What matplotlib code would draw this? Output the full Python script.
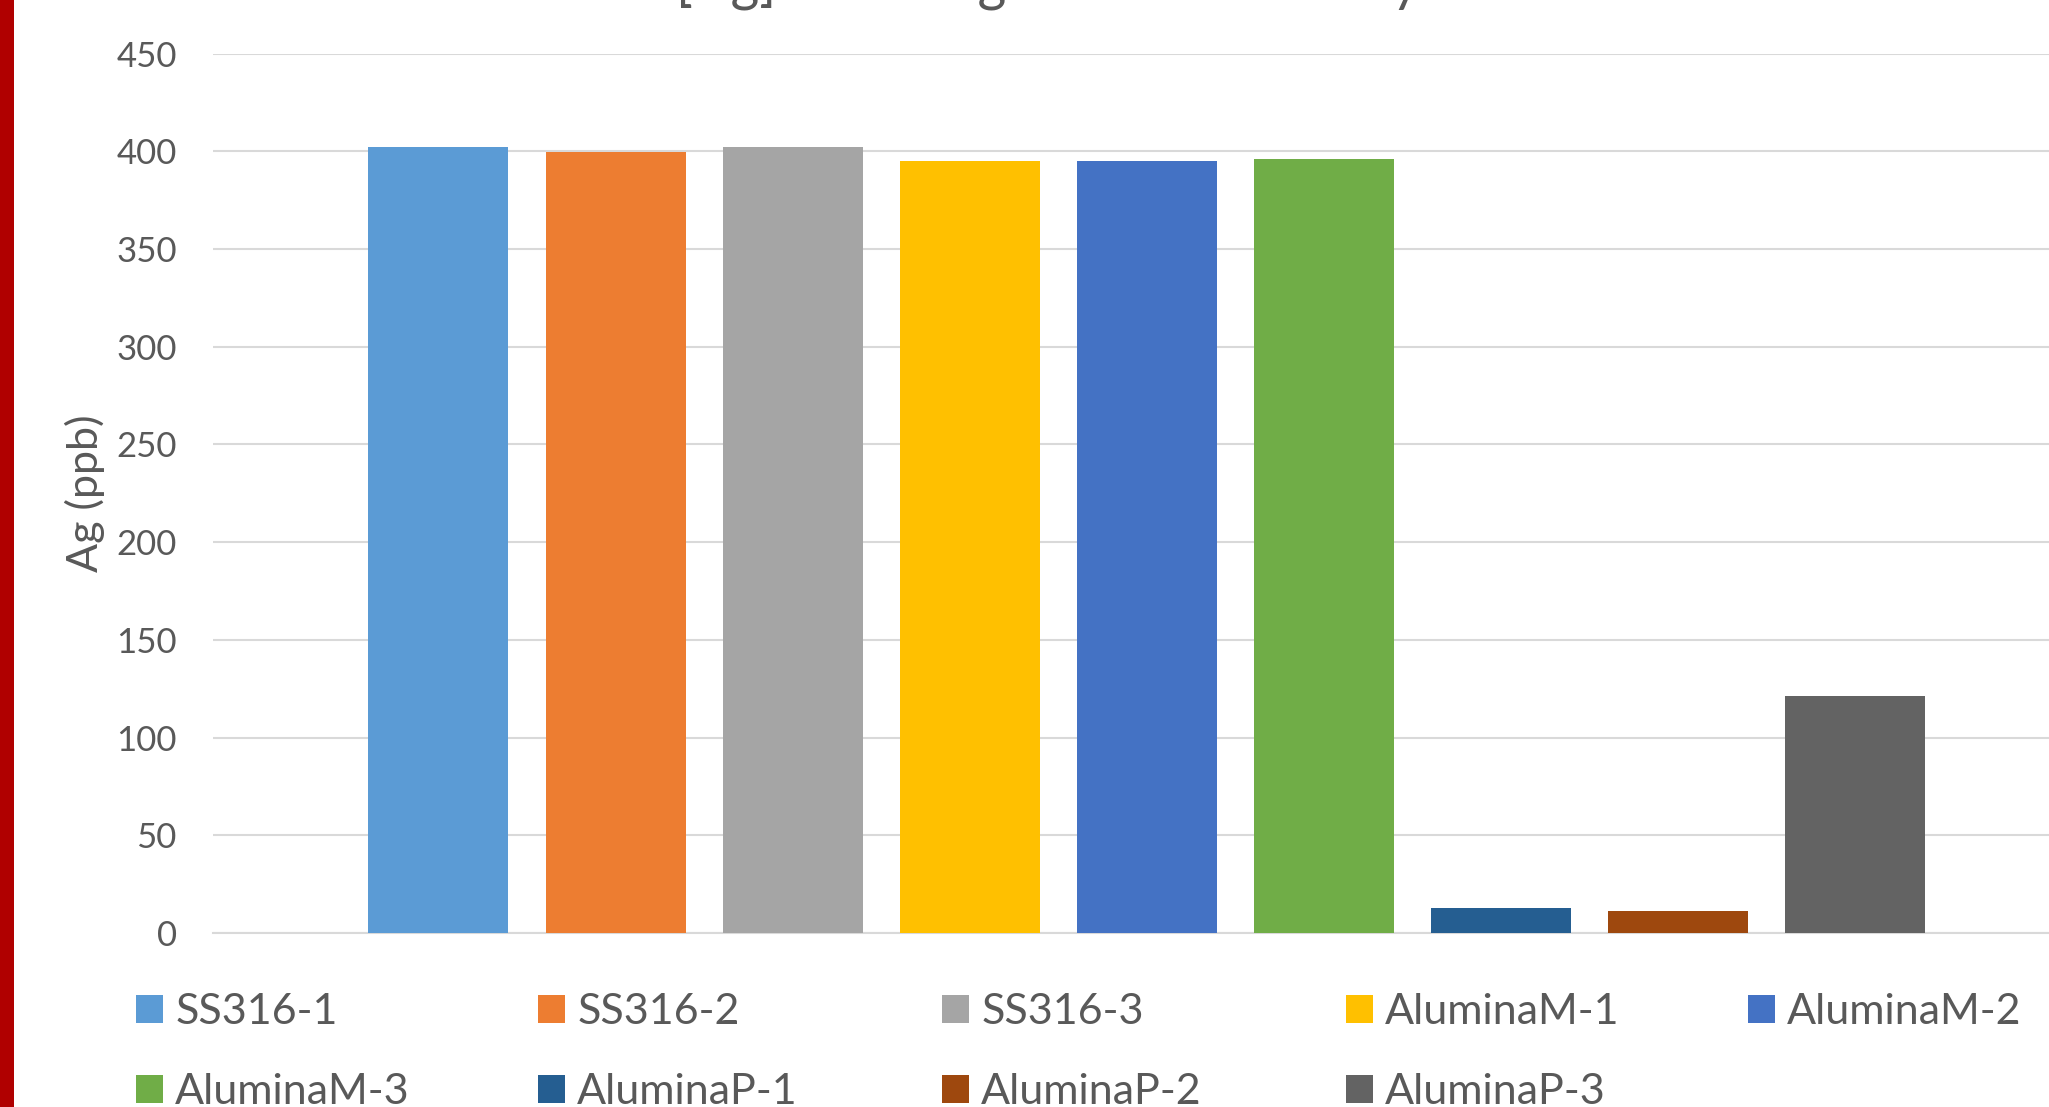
import matplotlib
matplotlib.use("Agg")
import matplotlib.pyplot as plt
from matplotlib.patches import Rectangle, Patch

labels = ["SS316-1", "SS316-2", "SS316-3", "AluminaM-1", "AluminaM-2",
          "AluminaM-3", "AluminaP-1", "AluminaP-2", "AluminaP-3"]
values = [402.3, 399.7, 402.3, 395.1, 395.1, 396.1, 13.0, 11.3, 121.2]
colors = ["#5B9BD5", "#ED7D31", "#A5A5A5", "#FFC000", "#4472C4",
          "#70AD47", "#255E91", "#9E480E", "#636363"]
yticks = [0, 50, 100, 150, 200, 250, 300, 350, 400, 450]
ylabel = "Ag (ppb)"
title = "[Ag] Leaching over Time Study"

W, H = 2049, 1107
plt.rcParams['font.family'] = ['Lato', 'DejaVu Sans']
txt = "#595959"
grid = "#D9D9D9"

fig = plt.figure(figsize=(W / 100, H / 100), dpi=100)
ax = fig.add_axes([213 / W, 1 - 933 / H, 1 - 213 / W, (933 - 53.6) / H])

xs = list(range(len(values)))
ax.bar(xs, values, width=0.79, color=colors, zorder=3)
ax.set_xlim(-1.273, 9.094)
ax.set_ylim(0, 450)
ax.set_yticks(yticks)
ax.set_yticklabels([str(t) for t in yticks])
ax.set_xticks([])
ax.tick_params(axis='y', length=0, pad=26, labelsize=25, labelcolor=txt)
ax.grid(axis='y', color=grid, linewidth=1.5, zorder=0)
for s in ["top", "right", "left"]:
    ax.spines[s].set_visible(False)
ax.spines["bottom"].set_color(grid)
ax.spines["bottom"].set_linewidth(1.5)
ax.spines["bottom"].set_zorder(1)
ax.set_ylabel(ylabel, fontsize=31, color=txt)
ax.yaxis.set_label_coords((105 - 213) / (W - 213), 0.5)

# partially visible title at the top edge
fig.text(1048 / W, 1 + 1 / H, title, ha='center', va='baseline',
         fontsize=40, color=txt)

# left red stripe
fig.add_artist(Rectangle((0, 0), 14 / W, 1, transform=fig.transFigure,
                         facecolor="#B00000", edgecolor='none'))

# legend: 5 columns, uniform pitch
col_x = [136, 538, 942, 1346, 1748]
row_y = [1012, 1092]
for i, (lab, c) in enumerate(zip(labels, colors)):
    r, k = divmod(i, 5)
    fig.legend(handles=[Patch(facecolor=c, edgecolor='none', label=lab)],
               loc='center left',
               bbox_to_anchor=(col_x[k] / W, 1 - row_y[r] / H),
               frameon=False, fontsize=31, labelcolor=txt,
               handlelength=0.63, handleheight=0.63, handletextpad=0.28,
               borderpad=0, borderaxespad=0)

fig.savefig("out.png", dpi=100)
